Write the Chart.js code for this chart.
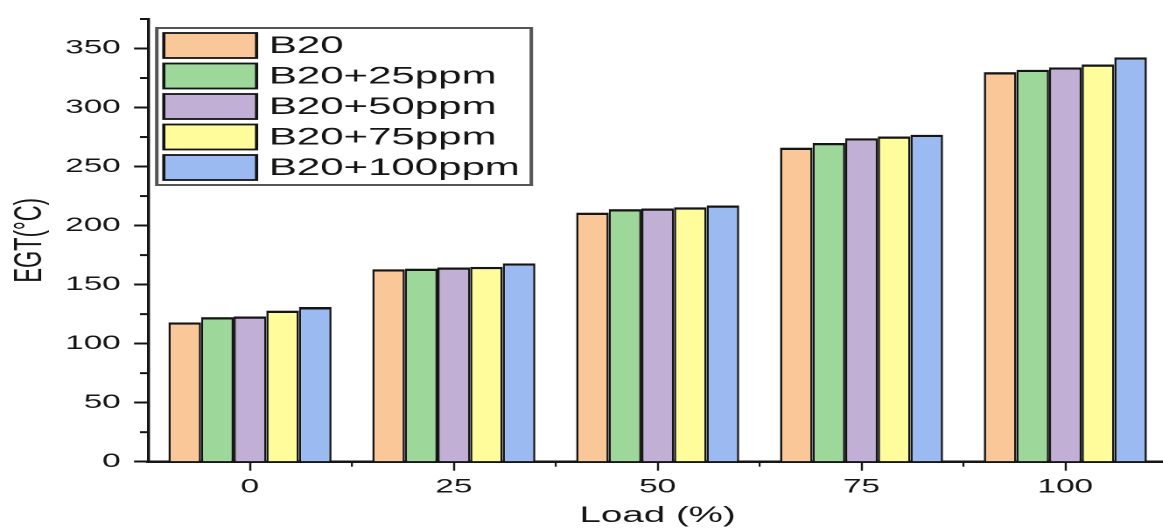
<!DOCTYPE html>
<html>
<head>
<meta charset="utf-8">
<script src="https://cdn.jsdelivr.net/npm/chart.js@4.4.0/dist/chart.umd.min.js"></script>
<style>
  html, body { margin: 0; padding: 0; background: #fff; overflow: hidden; }
  /* the source figure is stretched sideways, so the chart is drawn narrow and widened */
  #wrap { width: 675px; height: 529px; transform: scaleX(1.75); transform-origin: 0 0; }
</style>
</head>
<body>
<div id="wrap"><canvas id="egtChart" width="675" height="529"></canvas></div>
<script>
const loads = ['0', '25', '50', '75', '100'];
const seriesNames = ['B20', 'B20+25ppm', 'B20+50ppm', 'B20+75ppm', 'B20+100ppm'];
const b20 = [118, 163, 211, 266, 330];
const b20p25 = [122.5, 163.5, 214, 270, 332];
const b20p50 = [123, 164.5, 214.5, 274, 334];
const b20p75 = [128, 165, 215.5, 275.5, 336.5];
const b20p100 = [131, 168, 217, 277, 342.5];
const colors = ['#FAC898', '#9DD79A', '#C1AFD6', '#FFFD9B', '#9ABAF1'];
const yMinorTicks = [25, 75, 125, 175, 225, 275, 325, 375];

const font = 'Liberation Sans, Arial, sans-serif';
const ink = '#151515';
const values = [b20, b20p25, b20p50, b20p75, b20p100];

// minor ticks and the boxed legend in the top left of the plot
const extras = {
    id: 'extras',
    afterDraw(chart) {
        const ctx = chart.ctx;
        const y = chart.scales.y;
        const x = chart.scales.x;
        const area = chart.chartArea;
        ctx.save();
        ctx.strokeStyle = ink;
        ctx.lineWidth = 2;
        yMinorTicks.forEach(v => {
            const py = y.getPixelForValue(v);
            ctx.beginPath();
            ctx.moveTo(area.left - 4.6, py);
            ctx.lineTo(area.left, py);
            ctx.stroke();
        });
        ctx.lineWidth = 1.1;
        for (let i = 0; i < loads.length - 1; i++) {
            const px = (x.getPixelForValue(i) + x.getPixelForValue(i + 1)) / 2;
            ctx.beginPath();
            ctx.moveTo(px, area.bottom);
            ctx.lineTo(px, area.bottom + 5);
            ctx.stroke();
        }

        // legend
        const lx = area.left + 5;
        const ly = 28;
        ctx.fillStyle = '#fff';
        ctx.fillRect(lx, ly, 214, 157);
        ctx.strokeStyle = '#555';
        ctx.lineWidth = 2;
        ctx.strokeRect(lx, ly, 214, 157);
        ctx.font = '24px ' + font;
        ctx.textBaseline = 'middle';
        chart.data.datasets.forEach((ds, i) => {
            const top = ly + 5 + i * 30.5;
            ctx.fillStyle = ds.backgroundColor;
            ctx.fillRect(lx + 4, top, 53, 25);
            ctx.strokeStyle = ink;
            ctx.lineWidth = 1.8;
            ctx.strokeRect(lx + 4, top, 53, 25);
            ctx.fillStyle = ink;
            ctx.fillText(ds.label, lx + 64, top + 13.5);
        });
        ctx.restore();
    }
};

const ctx = document.getElementById('egtChart').getContext('2d');
new Chart(ctx, {
    type: 'bar',
    data: {
        labels: loads,
        datasets: seriesNames.map((name, i) => ({
            label: name,
            data: values[i],
            backgroundColor: colors[i],
            borderColor: ink,
            borderWidth: { top: 2.4, left: 1.3, right: 1.3, bottom: 0 },
            borderSkipped: false,
            categoryPercentage: 0.8,
            barPercentage: 1.0
        }))
    },
    options: {
        responsive: false,
        animation: false,
        devicePixelRatio: 2,
        layout: { padding: { top: 12, right: 8, left: 0, bottom: 0 } },
        plugins: {
            legend: { display: false },
            tooltip: { enabled: false }
        },
        scales: {
            x: {
                offset: true,
                grid: {
                    offset: false,
                    drawOnChartArea: false,
                    tickLength: 9,
                    tickColor: ink,
                    tickWidth: 1.2
                },
                border: { color: ink, width: 2.5 },
                ticks: { color: ink, font: { family: font, size: 19 }, padding: 5 },
                title: {
                    display: true,
                    text: 'Load (%)',
                    color: ink,
                    font: { family: font, size: 22 },
                    padding: { top: 0, bottom: 0 }
                },
                afterFit: s => { s.height = 67.3; }
            },
            y: {
                min: 0,
                max: 375,
                ticks: { stepSize: 50, color: ink, font: { family: font, size: 19 }, padding: 7.6 },
                afterBuildTicks: s => { s.ticks = s.ticks.filter(t => t.value % 50 === 0); },
                grid: {
                    drawOnChartArea: false,
                    tickLength: 8,
                    tickColor: ink,
                    tickWidth: 2
                },
                border: { color: ink, width: 1.7 },
                title: {
                    display: true,
                    text: 'EGT(°C)',
                    color: ink,
                    font: { family: font, size: 22 },
                    padding: { top: 4, bottom: 0 }
                },
                afterFit: s => { s.width = 84.6; }
            }
        }
    },
    plugins: [extras]
});
</script>
</body>
</html>
